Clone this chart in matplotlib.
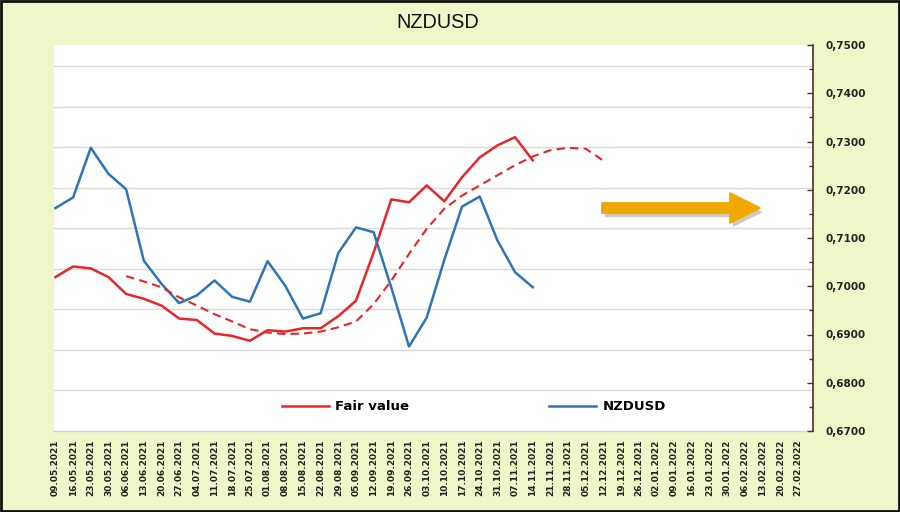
import numpy as np
import matplotlib
matplotlib.use('Agg')
import matplotlib.pyplot as plt
import matplotlib.patches as mpatches
import matplotlib.patheffects as pe
from matplotlib.lines import Line2D
from matplotlib.ticker import MultipleLocator, FuncFormatter

BG = '#eff7c8'
RED = '#e8262a'
BLUE = '#2e75b6'
ORANGE = '#f0a800'
AXIS = '#4a3030'
GRID = '#d9d9d9'

dates = [
    '09.05.2021', '16.05.2021', '23.05.2021', '30.05.2021', '06.06.2021',
    '13.06.2021', '20.06.2021', '27.06.2021', '04.07.2021', '11.07.2021',
    '18.07.2021', '25.07.2021', '01.08.2021', '08.08.2021', '15.08.2021',
    '22.08.2021', '29.08.2021', '05.09.2021', '12.09.2021', '19.09.2021',
    '26.09.2021', '03.10.2021', '10.10.2021', '17.10.2021', '24.10.2021',
    '31.10.2021', '07.11.2021', '14.11.2021', '21.11.2021', '28.11.2021',
    '05.12.2021', '12.12.2021', '19.12.2021', '26.12.2021', '02.01.2022',
    '09.01.2022', '16.01.2022', '23.01.2022', '30.01.2022', '06.02.2022',
    '13.02.2022', '20.02.2022', '27.02.2022',
]

nzdusd = [
    0.7162, 0.7184, 0.7287, 0.7233, 0.7201, 0.7053, 0.7005, 0.6965, 0.6981,
    0.7012, 0.6978, 0.6968, 0.7052, 0.7001, 0.6933, 0.6944, 0.7069, 0.7122,
    0.7112, 0.6997, 0.6875, 0.6935, 0.7055, 0.7165, 0.7186, 0.7095, 0.7029,
    0.6998,
]

fair_value = [
    0.7019, 0.7041, 0.7037, 0.7019, 0.6984, 0.6974, 0.6960, 0.6933, 0.6930,
    0.6902, 0.6897, 0.6887, 0.6909, 0.6906, 0.6913, 0.6913, 0.6938, 0.6970,
    0.7070, 0.7180, 0.7174, 0.7209, 0.7176, 0.7226, 0.7267, 0.7292, 0.7309,
    0.7261,
]

# smoothed fair value, starts at 06.06.2021
trend_start = 4
fair_trend = [
    0.7021, 0.7010, 0.6998, 0.6977, 0.6960, 0.6942, 0.6927, 0.6911, 0.6904,
    0.6901, 0.6902, 0.6906, 0.6915, 0.6927, 0.6963, 0.7012, 0.7067, 0.7119,
    0.7161, 0.7188, 0.7209, 0.7230, 0.7251, 0.7269, 0.7282, 0.7287, 0.7285,
    0.7260,
]

W, H = 900, 512
fig = plt.figure(figsize=(W / 100, H / 100), dpi=100)
fig.patch.set_facecolor(BG)

rect = [54 / W, 1 - 431 / H, (813 - 54) / W, (431 - 45) / H]

# base axes: white plot area + horizontal gridlines (hidden primary axis)
gax = fig.add_axes(rect)
gax.set_facecolor('white')
gax.set_ylim(0, 9.52)
gax.set_yticks(np.arange(1, 10))
gax.yaxis.grid(True, color=GRID, linewidth=1)
for s in ['top', 'left', 'right']:
    gax.spines[s].set_visible(False)
gax.spines['bottom'].set_color('#d0d0d0')
gax.spines['bottom'].set_linewidth(1)

x = np.arange(len(dates))
gax.set_xlim(-0.08, 42.85)
gax.set_xticks(x)
gax.set_xticklabels(dates, rotation=90, fontsize=6.5, fontweight='bold',
                    color='#222222', va='top', ha='center')
gax.tick_params(axis='x', length=0, pad=6)

# data axes with the visible right-hand scale
ax = gax.twinx()
gax.tick_params(axis='y', left=False, right=False, labelleft=False, labelright=False)
ax.set_xlim(-0.08, 42.85)
ax.set_ylim(0.67, 0.75)
ax.yaxis.set_major_locator(MultipleLocator(0.01))
ax.yaxis.set_minor_locator(MultipleLocator(0.005))
ax.yaxis.set_major_formatter(FuncFormatter(lambda v, p: f'{v:.4f}'.replace('.', ',')))
ax.tick_params(axis='y', which='both', direction='in', color=AXIS, width=1,
               labelsize=7.5, pad=9, labelcolor='#222222')
ax.tick_params(axis='y', which='major', length=4)
ax.tick_params(axis='y', which='minor', length=3)
for lbl in ax.get_yticklabels():
    lbl.set_fontweight('bold')
for s in ['top', 'left', 'bottom']:
    ax.spines[s].set_visible(False)
ax.spines['right'].set_color(AXIS)
ax.spines['right'].set_linewidth(1.2)

ax.plot(x[:len(fair_value)], fair_value, color=RED, linewidth=1.8)
ax.plot(x[:len(nzdusd)], nzdusd, color=BLUE, linewidth=1.8)
ax.plot(np.arange(trend_start, trend_start + len(fair_trend)), fair_trend,
        color=RED, linewidth=1.5, linestyle=(0, (4, 2.5)))

handles = [Line2D([], [], color=RED, linewidth=1.8),
           Line2D([], [], color=BLUE, linewidth=1.8)]
fig.legend(handles, ['Fair value', 'NZDUSD'], loc='center left',
           bbox_to_anchor=(275 / W, 1 - 407 / H), ncol=2, frameon=False,
           borderpad=0, handlelength=3.6, handletextpad=0.45,
           columnspacing=10.6, prop={'weight': 'bold', 'size': 9.5})

# title
fig.text(438 / W, 1 - 22 / H, 'NZDUSD', fontsize=14.3, color='#111111',
         ha='center', va='center', fontfamily='Liberation Sans')

# orange arrow pointing forward
arrow = mpatches.FancyArrow(6.02, (H - 208) / 100, 1.58, 0, width=0.10,
                            head_width=0.30, head_length=0.30,
                            length_includes_head=True, color=ORANGE,
                            transform=fig.dpi_scale_trans,
                            path_effects=[pe.withSimplePatchShadow(offset=(2, -3), alpha=0.25),
                                          pe.Normal()])
fig.patches.append(arrow)

# outer frame
frame = mpatches.Rectangle((0.001, 0.002), 0.998, 0.996, transform=fig.transFigure,
                           fill=False, edgecolor='#111111', linewidth=2)
fig.patches.append(frame)

fig.savefig('out.png', dpi=100, facecolor=BG)
